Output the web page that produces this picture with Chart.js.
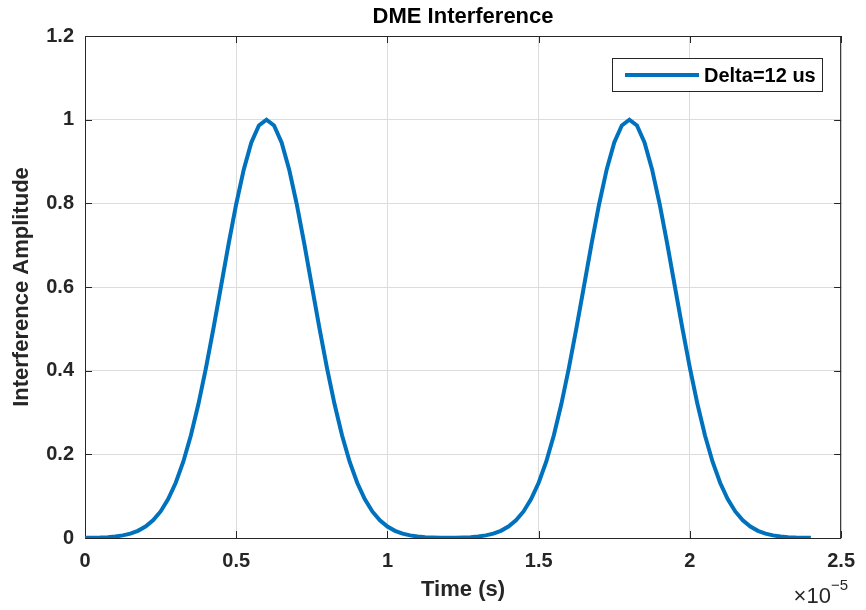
<!DOCTYPE html>
<html>
<head>
<meta charset="utf-8">
<title>DME Interference</title>
<script src="https://cdn.jsdelivr.net/npm/chart.js@4/dist/chart.umd.min.js"></script>
<style>
  html, body { margin: 0; padding: 0; background: #fff; }
  canvas { display: block; }
</style>
</head>
<body>
<canvas id="chart" width="866" height="610"></canvas>
<script>
// time samples in microseconds (axis is drawn in units of 1e-5 s)
const timeUs = [
  0, 0.25, 0.5, 0.75, 1, 1.25, 1.5, 1.75, 2, 2.25, 2.5, 2.75, 3, 3.25, 3.5, 3.75,
  4, 4.25, 4.5, 4.75, 5, 5.25, 5.5, 5.75, 6, 6.25, 6.5, 6.75, 7, 7.25, 7.5, 7.75,
  8, 8.25, 8.5, 8.75, 9, 9.25, 9.5, 9.75, 10, 10.25, 10.5, 10.75, 11, 11.25, 11.5, 11.75,
  12, 12.25, 12.5, 12.75, 13, 13.25, 13.5, 13.75, 14, 14.25, 14.5, 14.75, 15, 15.25, 15.5, 15.75,
  16, 16.25, 16.5, 16.75, 17, 17.25, 17.5, 17.75, 18, 18.25, 18.5, 18.75, 19, 19.25, 19.5, 19.75,
  20, 20.25, 20.5, 20.75, 21, 21.25, 21.5, 21.75, 22, 22.25, 22.5, 22.75, 23, 23.25, 23.5, 23.75,
  24
];

const amplitude = [
  0.0003, 0.0006, 0.0011, 0.0020, 0.0036, 0.0062, 0.0105, 0.0172, 0.0273, 0.0423, 0.0635, 0.0929,
  0.1320, 0.1824, 0.2451, 0.3201, 0.4066, 0.5021, 0.6028, 0.7036, 0.7985, 0.8811, 0.9453, 0.9860,
  1.0000,
  0.9860, 0.9453, 0.8811, 0.7985, 0.7036, 0.6028, 0.5021, 0.4066, 0.3201, 0.2451, 0.1824, 0.1320,
  0.0929, 0.0635, 0.0423, 0.0273, 0.0172, 0.0105, 0.0062, 0.0036, 0.0020, 0.0012, 0.0007, 0.0006,
  0.0007, 0.0012, 0.0020, 0.0036, 0.0062, 0.0105, 0.0172, 0.0273, 0.0423, 0.0635, 0.0929, 0.1320,
  0.1824, 0.2451, 0.3201, 0.4066, 0.5021, 0.6028, 0.7036, 0.7985, 0.8811, 0.9453, 0.9860, 1.0000,
  0.9860, 0.9453, 0.8811, 0.7985, 0.7036, 0.6028, 0.5021, 0.4066, 0.3201, 0.2451, 0.1824, 0.1320,
  0.0929, 0.0635, 0.0423, 0.0273, 0.0172, 0.0105, 0.0062, 0.0036, 0.0020, 0.0011, 0.0006, 0.0003
];

const xTicks = [0, 0.5, 1, 1.5, 2, 2.5];
const xTickLabels = ['0', '0.5', '1', '1.5', '2', '2.5'];
const yTicks = [0, 0.2, 0.4, 0.6, 0.8, 1, 1.2];
const yTickLabels = ['0', '0.2', '0.4', '0.6', '0.8', '1', '1.2'];

const seriesLabel = 'Delta=12 us';
const FONT = 'Arial, "Liberation Sans", Helvetica, sans-serif';
const INK = '#262626';
const BLUE = '#0072BD';

// MATLAB-like frame: full box with inward ticks, title, exponent, legend
const matlabFrame = {
  id: 'matlabFrame',
  beforeDatasetsDraw(chart) {
    const { ctx, chartArea: a, scales } = chart;
    ctx.save();
    ctx.strokeStyle = INK;
    ctx.lineWidth = 1;
    ctx.strokeRect(a.left + 0.5, a.top + 0.5, a.right - a.left - 1, a.bottom - a.top);
    const tl = 7;
    ctx.beginPath();
    xTicks.forEach(v => {
      const x = Math.round(scales.x.getPixelForValue(v)) + 0.5;
      ctx.moveTo(x, a.bottom); ctx.lineTo(x, a.bottom - tl);
      ctx.moveTo(x, a.top); ctx.lineTo(x, a.top + tl);
    });
    yTicks.forEach(v => {
      const y = Math.round(scales.y.getPixelForValue(v)) + 0.5;
      ctx.moveTo(a.left, y); ctx.lineTo(a.left + tl, y);
      ctx.moveTo(a.right, y); ctx.lineTo(a.right - tl, y);
    });
    ctx.stroke();
    ctx.restore();
  },
  afterDraw(chart) {
    const { ctx, chartArea: a } = chart;
    ctx.save();
    ctx.fillStyle = '#000';
    ctx.font = 'bold 22px ' + FONT;
    ctx.textAlign = 'center';
    ctx.textBaseline = 'middle';
    ctx.fillText('DME Interference', (a.left + a.right) / 2, 17);

    // x exponent, right-aligned to the axis end
    ctx.fillStyle = INK;
    ctx.textAlign = 'left';
    ctx.textBaseline = 'alphabetic';
    ctx.font = '22px ' + FONT;
    const w1 = ctx.measureText('\u00d710').width;
    ctx.font = '15px ' + FONT;
    const w2 = ctx.measureText('\u22125').width;
    const ex = 848 - w1 - w2;
    ctx.font = '22px ' + FONT;
    ctx.fillText('\u00d710', ex, 603);
    ctx.font = '15px ' + FONT;
    ctx.fillText('\u22125', ex + w1, 590);

    // legend
    const lx = 612.5, ly = 58.5, lw = 210, lh = 33;
    ctx.fillStyle = '#fff';
    ctx.fillRect(lx, ly, lw, lh);
    ctx.strokeStyle = INK;
    ctx.lineWidth = 1;
    ctx.strokeRect(lx, ly, lw, lh);
    ctx.strokeStyle = BLUE;
    ctx.lineWidth = 4;
    ctx.beginPath();
    ctx.moveTo(625, 75);
    ctx.lineTo(699, 75);
    ctx.stroke();
    ctx.fillStyle = '#000';
    ctx.font = 'bold 20px ' + FONT;
    ctx.textBaseline = 'middle';
    ctx.fillText(seriesLabel, 704, 76);
    ctx.restore();
  }
};

new Chart(document.getElementById('chart'), {
  type: 'line',
  data: {
    datasets: [{
      label: seriesLabel,
      data: timeUs.map((t, i) => ({ x: t / 10, y: amplitude[i] })),
      borderColor: BLUE,
      borderWidth: 4,
      pointRadius: 0,
      tension: 0,
      fill: false
    }]
  },
  options: {
    responsive: false,
    animation: false,
    layout: { padding: { top: 36, right: 20, left: 0, bottom: 0 } },
    plugins: {
      legend: { display: false },
      title: { display: false },
      tooltip: { enabled: false }
    },
    scales: {
      x: {
        type: 'linear',
        min: 0,
        max: 2.5,
        afterBuildTicks: s => { s.ticks = xTicks.map(v => ({ value: v })); },
        afterFit: s => { s.height = 72; },
        grid: { color: '#dcdcdc', lineWidth: 1, drawTicks: false },
        border: { display: false },
        ticks: {
          padding: 11,
          color: INK,
          font: { family: FONT, size: 20, weight: 'bold' },
          maxRotation: 0,
          callback: (v, i) => xTickLabels[i]
        },
        title: {
          display: true,
          text: 'Time (s)',
          color: INK,
          font: { family: FONT, size: 22, weight: 'bold' },
          padding: { top: 0, bottom: 7 }
        }
      },
      y: {
        type: 'linear',
        min: 0,
        max: 1.2,
        afterBuildTicks: s => { s.ticks = yTicks.map(v => ({ value: v })); },
        afterFit: s => { s.width = 85; },
        grid: { color: '#dcdcdc', lineWidth: 1, drawTicks: false },
        border: { display: false },
        ticks: {
          padding: 11,
          color: INK,
          font: { family: FONT, size: 20, weight: 'bold' },
          callback: (v, i) => yTickLabels[i]
        },
        title: {
          display: true,
          text: 'Interference Amplitude',
          color: INK,
          font: { family: FONT, size: 22, weight: 'bold' },
          padding: { top: 9, bottom: 0 }
        }
      }
    }
  },
  plugins: [matlabFrame]
});
</script>
</body>
</html>
